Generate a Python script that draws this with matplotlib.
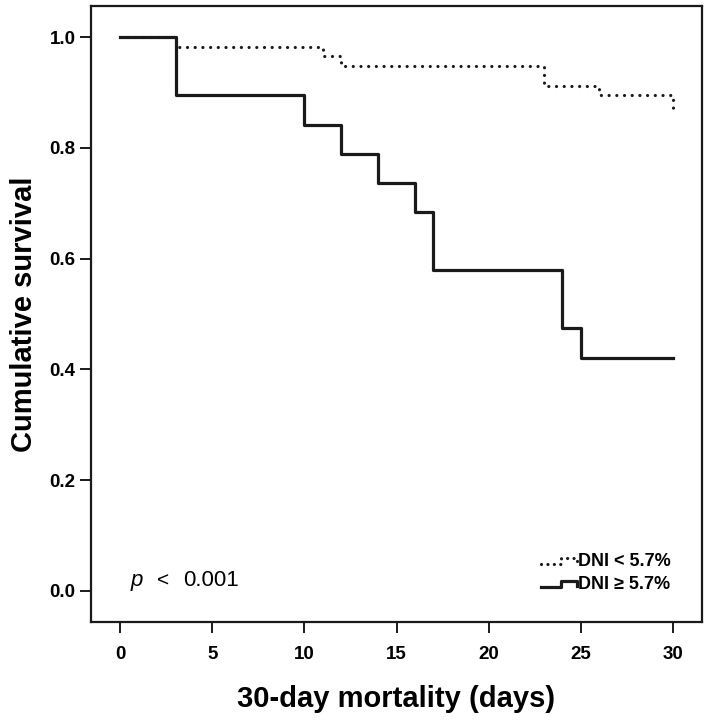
import matplotlib
matplotlib.use("Agg")
import matplotlib.pyplot as plt
from matplotlib.legend_handler import HandlerBase
from matplotlib.lines import Line2D

# Data (Kaplan-Meier steps)
low_times = [0, 3, 11, 12, 23, 26, 30]
low_surv = [1.0, 0.982, 0.965, 0.947, 0.912, 0.895, 0.860]
high_times = [0, 3, 10, 12, 14, 16, 17, 24, 25, 30]
high_surv = [1.0, 0.895, 0.842, 0.789, 0.737, 0.684, 0.579, 0.474, 0.421, 0.421]
labels = ["DNI < 5.7%", "DNI \u2265 5.7%"]
xticks = [0, 5, 10, 15, 20, 25, 30]
yticks = [0.0, 0.2, 0.4, 0.6, 0.8, 1.0]

plt.rcParams['font.family'] = ['Liberation Sans', 'DejaVu Sans']

fig = plt.figure(figsize=(7.11, 7.20), dpi=100)
ax = fig.add_axes([91/711, 1 - 622/720, 611/711, 616/720])

dot_style = dict(color='#1a1a1a', linewidth=2.3, linestyle=(0, (0.01, 2.4)),
                 dash_capstyle='round', solid_capstyle='round')
solid_style = dict(color='#1a1a1a', linewidth=2.3, linestyle='-')

l1, = ax.step(low_times, low_surv, where='post', **dot_style, zorder=3)
l2, = ax.step(high_times, high_surv, where='post', **solid_style, zorder=2)

ax.set_xlim(-1.6, 31.6)
ax.set_ylim(-0.056, 1.056)
ax.set_xticks(xticks)
ax.set_xticklabels([str(t) for t in xticks])
ax.set_yticks(yticks)
ax.set_yticklabels([f"{t:.1f}" for t in yticks])

for s in ax.spines.values():
    s.set_linewidth(1.6)
    s.set_color('#1a1a1a')
ax.tick_params(direction='out', length=8, width=1.4, color='#1a1a1a',
               labelsize=13.5)
ax.tick_params(axis='x', pad=9)
ax.tick_params(axis='y', pad=3)
for lab in ax.get_xticklabels() + ax.get_yticklabels():
    lab.set_fontweight('bold')

ax.set_xlabel("30-day mortality (days)", fontsize=21, fontweight='bold', labelpad=16)
ax.set_ylabel("Cumulative survival", fontsize=21, fontweight='bold', labelpad=8)

ax.text(0.064, 0.0666, "p", transform=ax.transAxes, fontsize=16, fontstyle='italic',
        ha='left', va='center')
ax.text(0.108, 0.0666, "<", transform=ax.transAxes, fontsize=15,
        ha='left', va='center')
ax.text(0.15, 0.0666, "0.001", transform=ax.transAxes, fontsize=16,
        ha='left', va='center')


class StepHandler(HandlerBase):
    def create_artists(self, legend, orig_handle, xdescent, ydescent,
                       width, height, fontsize, trans):
        x0 = -xdescent
        y0 = -ydescent
        xs = [x0, x0 + 0.55 * width, x0 + 0.55 * width, x0 + width, x0 + width]
        ys = [y0 + 0.2 * height, y0 + 0.2 * height, y0 + 0.65 * height,
              y0 + 0.65 * height, y0 + 0.3 * height]
        ln = Line2D(xs, ys, color=orig_handle.get_color(),
                    linewidth=orig_handle.get_linewidth(),
                    linestyle=orig_handle.get_linestyle(),
                    dash_capstyle='round')
        if orig_handle is l1:
            ln.set_dashes((0.01, 2.0))
        ln.set_transform(trans)
        return [ln]


leg = ax.legend([l1, l2], labels, loc='lower right', bbox_to_anchor=(0.975, 0.02),
                frameon=False, handler_map={l1: StepHandler(), l2: StepHandler()},
                handlelength=2.0, handletextpad=0.05, labelspacing=0.35,
                prop={'family': ['Liberation Sans Narrow', 'Liberation Sans', 'DejaVu Sans'],
                      'weight': 'bold', 'size': 13})

fig.savefig("out.png", dpi=100)
